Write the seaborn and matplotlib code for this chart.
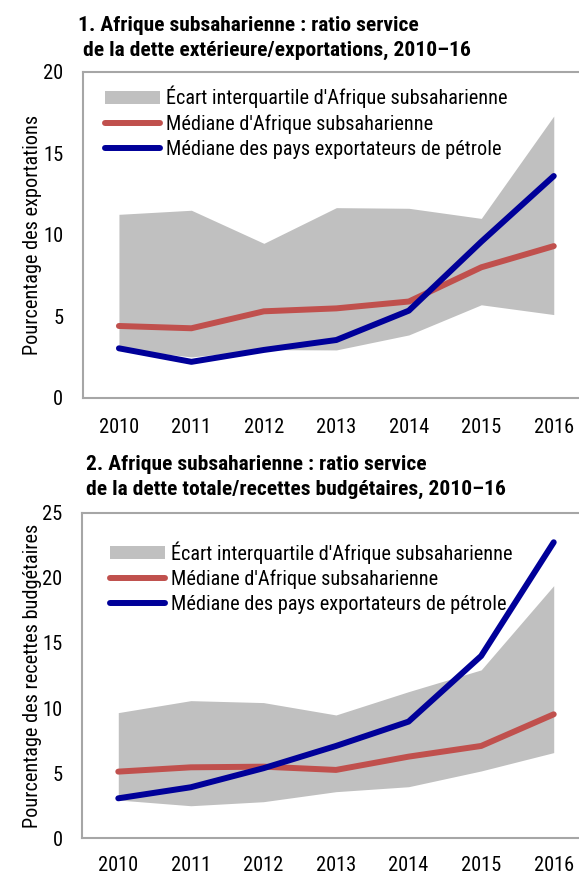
import matplotlib
matplotlib.use("Agg")
import matplotlib.pyplot as plt
import seaborn as sns
import pandas as pd
from matplotlib import font_manager as fm
from matplotlib.patches import Patch
from matplotlib.lines import Line2D

# ---------------- data ----------------
years = [2010, 2011, 2012, 2013, 2014, 2015, 2016]

# Panel 1: external debt service / exports (%)
p1_median_ssa = [4.4, 4.26, 5.3, 5.48, 5.9, 8.0, 9.3]
p1_median_oil = [3.03, 2.2, 2.93, 3.54, 5.34, 9.57, 13.6]
p1_iqr_low = [3.0, 2.5, 2.95, 2.93, 3.85, 5.7, 5.1]
p1_iqr_high = [11.25, 11.5, 9.47, 11.66, 11.62, 11.0, 17.28]

# Panel 2: total debt service / budget revenue (%)
p2_median_ssa = [5.12, 5.45, 5.5, 5.25, 6.27, 7.09, 9.52]
p2_median_oil = [3.07, 3.92, 5.38, 7.09, 8.96, 14.0, 22.73]
p2_iqr_low = [2.94, 2.5, 2.81, 3.58, 3.96, 5.17, 6.58]
p2_iqr_high = [9.65, 10.57, 10.42, 9.47, 11.26, 12.93, 19.4]

titles = [
    "1. Afrique subsaharienne : ratio service\n de la dette extérieure/exportations, 2010–16",
    "2. Afrique subsaharienne : ratio service\nde la dette totale/recettes budgétaires, 2010–16",
]
ylabels = ["Pourcentage des exportations", "Pourcentage des recettes budgétaires"]
legend_labels = [
    "Écart interquartile d'Afrique subsaharienne",
    "Médiane d'Afrique subsaharienne",
    "Médiane des pays exportateurs de pétrole",
]
yticks_list = [[0, 5, 10, 15, 20], [0, 5, 10, 15, 20, 25]]

# ---------------- style ----------------
sns.set_style("white")
names = {f.name for f in fm.fontManager.ttflist}
FONT, STRETCH = ["DejaVu Sans"], "condensed"
for cand in ["Liberation Sans Narrow", "Arial Narrow", "Roboto Condensed", "Open Sans Condensed"]:
    if cand in names:
        FONT, STRETCH = [cand, "DejaVu Sans"], "normal"
        break
plt.rcParams["font.family"] = FONT
plt.rcParams["font.stretch"] = STRETCH
for k in ["text.color", "axes.labelcolor", "xtick.labelcolor", "ytick.labelcolor"]:
    plt.rcParams[k] = "black"

GRAY_FILL = "#c0c0c0"
RED = "#c0504d"
BLUE = "#000099"
SPINE = "#a6a6a6"

W, H = 579, 874
fig = plt.figure(figsize=(W / 100, H / 100), dpi=100)
renderer = fig.canvas.get_renderer()


def fit_size(text, target_px, weight="normal", base=15.0):
    t = fig.text(0, 0, text, fontsize=base, fontweight=weight)
    w = t.get_window_extent(renderer).width
    t.remove()
    return base * target_px / w


FS_TITLE = fit_size("1. Afrique subsaharienne : ratio service", 340, weight="bold")
FS_LEG = fit_size(legend_labels[0], 341)
FS_XT = fit_size("2010", 38.3) * 1.05
FS_YT = fit_size("20", 19.3) * 1.05
FS_YL = fit_size(ylabels[0], 240)


def px_axes(left, top, right, bottom):
    return fig.add_axes([left / W, 1 - bottom / H, (right - left) / W, (bottom - top) / H])


ax1 = px_axes(82.7, 71.7, 590.0, 397.7)
ax2 = px_axes(82.0, 512.7, 590.0, 838.3)

panels = [
    (ax1, p1_median_ssa, p1_median_oil, p1_iqr_low, p1_iqr_high),
    (ax2, p2_median_ssa, p2_median_oil, p2_iqr_low, p2_iqr_high),
]

for i, (ax, med, oil, lo, hi) in enumerate(panels):
    df = pd.DataFrame({"year": years, "ssa": med, "oil": oil, "lo": lo, "hi": hi})
    ax.fill_between(df["year"], df["lo"], df["hi"], color=GRAY_FILL, lw=0, zorder=1)
    sns.lineplot(data=df, x="year", y="ssa", ax=ax, color=RED, lw=4.3,
                 solid_capstyle="round", zorder=3)
    sns.lineplot(data=df, x="year", y="oil", ax=ax, color=BLUE, lw=4.3,
                 solid_capstyle="round", zorder=4)

    ax.set_xlim(years[0] - 0.5, years[-1] + 0.5)
    yt = yticks_list[i]
    ax.set_ylim(yt[0], yt[-1])
    ax.set_yticks(yt)
    ax.set_yticklabels([str(v) for v in yt])
    ax.set_xticks(years)
    ax.set_xticklabels([str(y) for y in years])
    ax.set_xticks([y + 0.5 for y in years[:-1]], minor=True)

    ax.tick_params(axis="x", which="major", length=0, pad=[14.5, 12.5][i],
                   labelsize=FS_XT, labelcolor="black")
    ax.tick_params(axis="x", which="minor", length=5, width=1.3, direction="in", color=SPINE)
    ax.tick_params(axis="y", which="major", length=5, width=1.3, direction="in", color=SPINE,
                   pad=14, labelsize=FS_YT, labelcolor="black")

    for sp in ax.spines.values():
        sp.set_color(SPINE)
        sp.set_linewidth(1.5)
        sp.set_visible(True)

    ax.set_xlabel("")
    ax.set_ylabel(ylabels[i], fontsize=FS_YL)
    ax_w_px = ax.get_position().width * W
    ax.yaxis.set_label_coords((42 - ax.get_position().x0 * W) / ax_w_px, 0.5)

    handles = [
        Patch(facecolor=GRAY_FILL, edgecolor="none"),
        Line2D([0], [0], color=RED, lw=4.3, solid_capstyle="round"),
        Line2D([0], [0], color=BLUE, lw=4.3, solid_capstyle="round"),
    ]
    leg_x = [105, 110][i]
    leg_top = [86, 541][i]
    fs_px = FS_LEG * 100 / 72
    ax.legend(handles, legend_labels, loc="upper left",
              bbox_to_anchor=(leg_x / W, 1 - leg_top / H), bbox_transform=fig.transFigure,
              frameon=False, fontsize=FS_LEG, borderpad=0, borderaxespad=0,
              handlelength=55 / fs_px, handleheight=12 / fs_px,
              handletextpad=6 / fs_px, labelspacing=0.3)

fig.text(78 / W, 1 - 16 / H, titles[0], ha="left", va="top", fontsize=FS_TITLE,
         fontweight="bold", linespacing=1.4)
fig.text(86 / W, 1 - 455 / H, titles[1], ha="left", va="top", fontsize=FS_TITLE,
         fontweight="bold", linespacing=1.4)

fig.savefig("out.png", dpi=100)
